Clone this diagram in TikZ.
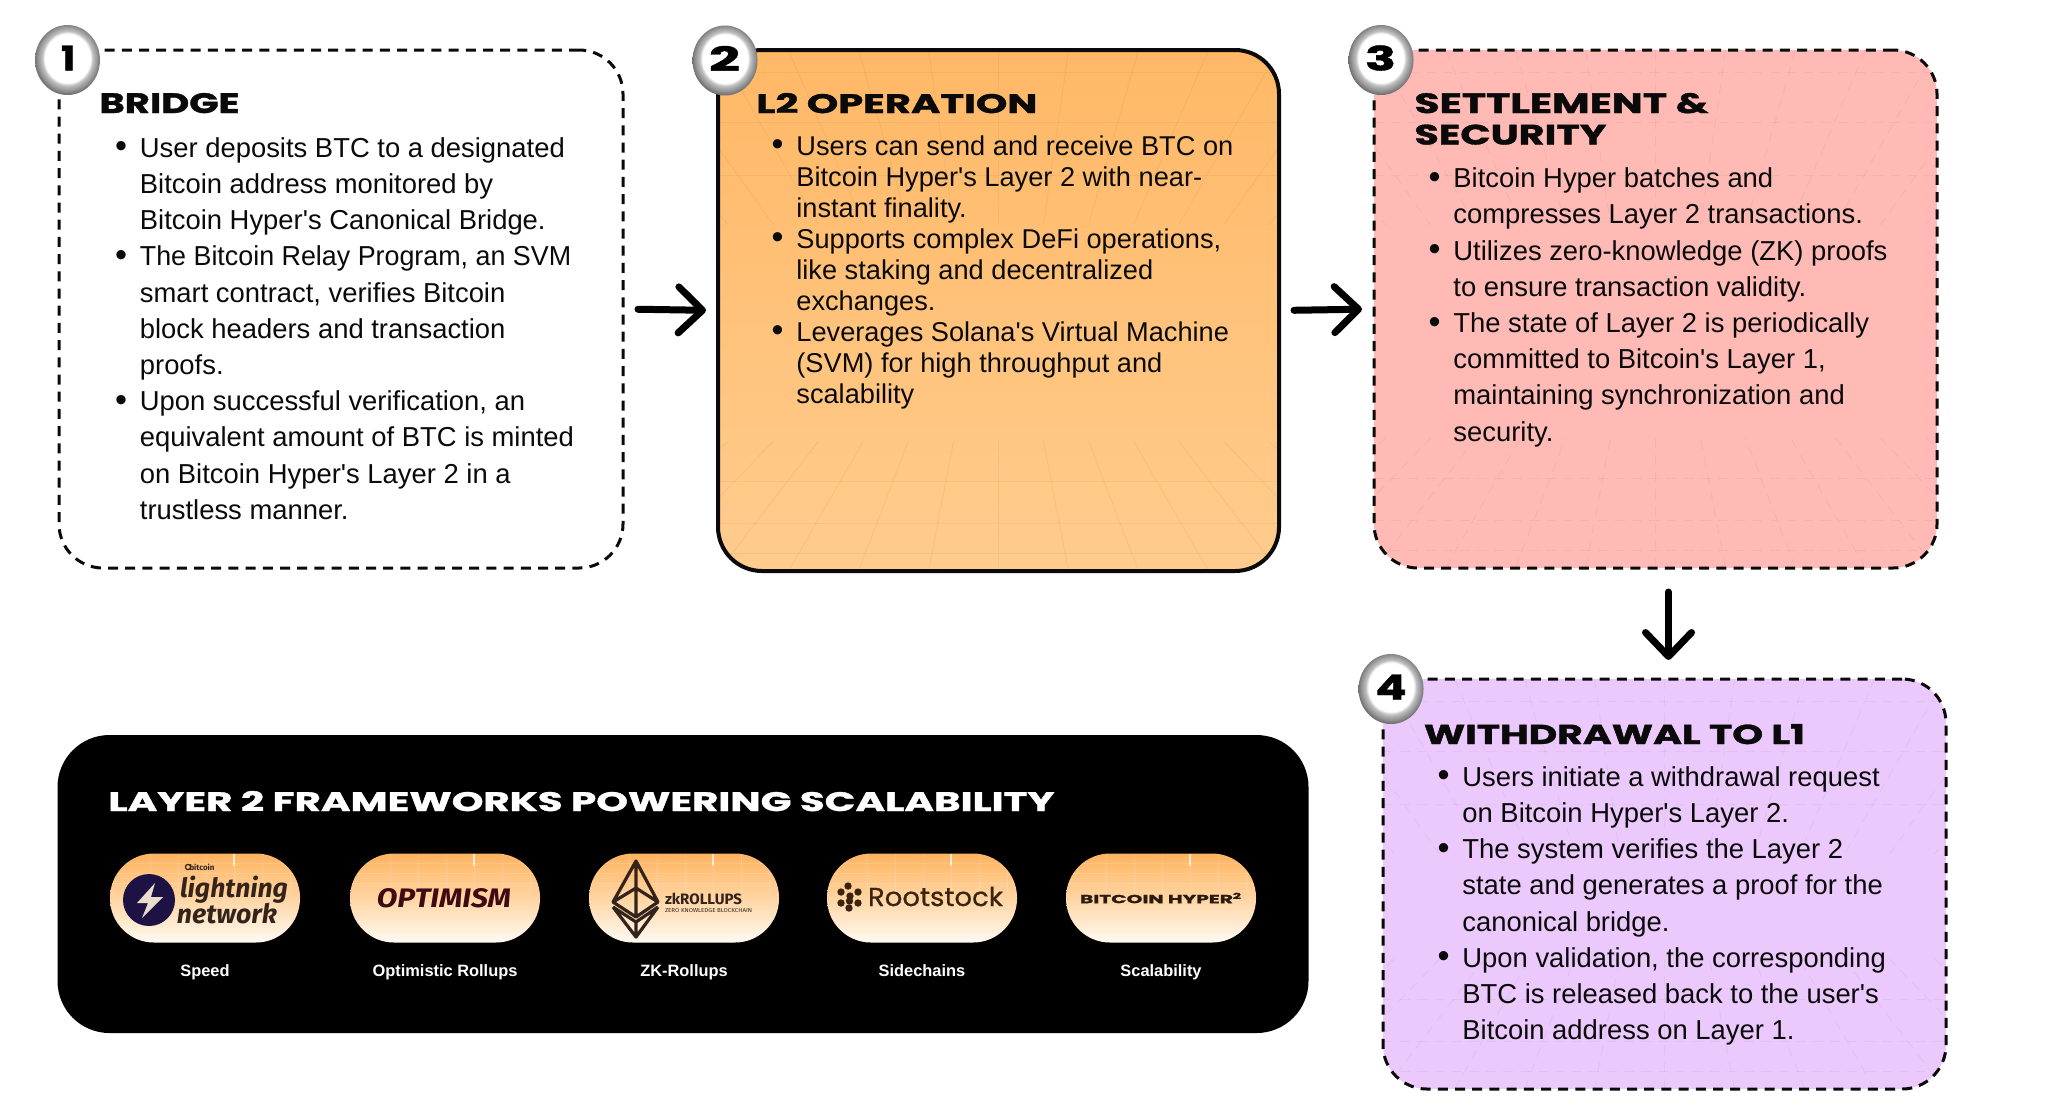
\documentclass[tikz,border=0pt]{standalone}
\usepackage{fontspec}
\usepackage{graphicx}
\setmainfont{Liberation Sans}
\newfontfamily\ttlfont[BoldFeatures={FakeBold=1.2}]{Poppins}
\newfontfamily\logofont{Fira Sans}
\newfontfamily\logomed[FakeBold=0.7]{Poppins}
\usetikzlibrary{arrows.meta,calc,shapes.geometric}
\definecolor{inkc}{HTML}{0A0A0A}
\definecolor{logoc}{HTML}{33231A}
\definecolor{orangetop}{HTML}{FFB866}
\definecolor{orangebot}{HTML}{FFCC8E}
\definecolor{pinkfill}{HTML}{FFBAB5}
\definecolor{lilacfill}{HTML}{ECC9FC}
\definecolor{navyc}{HTML}{1E1245}
\definecolor{boltc}{HTML}{EADCCB}
\definecolor{maroonc}{HTML}{3F0A12}
\definecolor{rootc}{HTML}{3A2410}
\definecolor{hyperc}{HTML}{2A1A10}
\definecolor{pilltop}{HTML}{FFB35F}
\definecolor{pillmid}{HTML}{FFD5A3}
\definecolor{pillbot}{HTML}{FFFAF2}
\pgfdeclareradialshading{bdgshade}{\pgfpoint{0bp}{2bp}}{color(0bp)=(white); color(17.5bp)=(white); color(19.5bp)=(gray!50); color(23bp)=(gray!85); color(27bp)=(gray!70!black); color(50bp)=(gray!70!black)}
\pgfdeclarearrow{
  name=BarbTip,
  setup code={\pgfarrowssettipend{1.75pt}\pgfarrowssetlineend{-1pt}\pgfarrowssetbackend{-12pt}\pgfarrowssetvisualbackend{-1pt}},
  drawing code={\pgfsetdash{}{0pt}\pgfsetroundcap\pgfsetroundjoin
    \pgfpathmoveto{\pgfpoint{-12pt}{11.5pt}}\pgfpathlineto{\pgfpointorigin}\pgfpathlineto{\pgfpoint{-12pt}{-11.5pt}}\pgfusepathqstroke}
}
\newcommand\ttl[2]{\resizebox{#1}{10pt}{\ttlfont\bfseries #2}}
\newcommand\numb[2]{\resizebox{#1}{12.5pt}{\ttlfont\bfseries #2}}
\newcommand\bl{\makebox[0pt][r]{\raisebox{-0.3pt}{\scalebox{1.25}{\textbullet}}\hspace{6.4pt}}}
\newcommand\qq{\textquotesingle{}}
\newcommand\tunnel{%
  \foreach \i in {-6,...,6} {
    \draw[gridln] ($(path picture bounding box.north)+(\i*70,0)$) -- ($(path picture bounding box.north)+(\i*45,175)$);
    \draw[gridln] ($(path picture bounding box.south)+(\i*70,0)$) -- ($(path picture bounding box.south)+(\i*45,-130)$);
  }
  \foreach \d in {22,72,125} {
    \draw[gridln] ($(path picture bounding box.north west)+(0,\d)$) -- ($(path picture bounding box.north east)+(0,\d)$);
  }
  \foreach \d in {18,48,90} {
    \draw[gridln] ($(path picture bounding box.south west)+(0,-\d)$) -- ($(path picture bounding box.south east)+(0,-\d)$);
  }
}
\newcommand\glint{%
  \draw[white,line width=.7pt,opacity=.7] ($(path picture bounding box.north)+(29,0)$) -- ($(path picture bounding box.north)+(29,12)$);
  \foreach \i in {-3,...,3} {\draw[white,line width=.3pt,opacity=.18] ($(path picture bounding box.north)+(29+\i*28,0)$) -- ($(path picture bounding box.north)+(29+\i*28,38)$);}
  \foreach \d in {10,20,30} {\draw[white,line width=.3pt,opacity=.15] ($(path picture bounding box.north west)+(0,\d)$) -- ($(path picture bounding box.north east)+(0,\d)$);}
}
\tikzset{
  gridln/.style={line width=.5pt,draw=black,opacity=.04},
  card/.style={rounded corners=22pt,inner sep=0pt,outer sep=0pt,anchor=north west},
  dashline/.style={draw=inkc,line width=1.5pt,dash pattern=on 5pt off 3.6pt},
  solidline/.style={draw=inkc,line width=2pt},
  bodytext/.style={anchor=north west,inner sep=0pt,align=left,text=inkc,font=\fontsize{13.7}{18.1}\selectfont},
  bodytight/.style={anchor=north west,inner sep=0pt,align=left,text=inkc,font=\fontsize{13.6}{15.5}\selectfont},
  titlenode/.style={anchor=base west,inner sep=0pt,text=inkc},
  badge/.style={ellipse,minimum width=32.5pt,minimum height=35pt,inner sep=0pt,shading=bdgshade},
  numnode/.style={inner sep=0pt,text=black},
  arr/.style={draw=black,line width=3.5pt,line cap=round,-{BarbTip}},
  pill/.style={rounded corners=22pt,minimum width=95pt,minimum height=44.5pt,inner sep=0pt,top color=pilltop,bottom color=pillbot,middle color=pillmid,path picture={\glint}},
  pilllabel/.style={anchor=base,inner sep=0pt,text=white,font=\fontsize{8.2}{10}\selectfont\bfseries},
}
\begin{document}
\begin{tikzpicture}[x=0.5pt,y=-0.5pt]
\useasboundingbox (0,0) rectangle (2048,1105);
% cards
\node[card,dashline,minimum width=282pt,minimum height=259pt] (box1) at (59,50) {};
\node[card,solidline,minimum width=280.5pt,minimum height=260.5pt,top color=orangetop,bottom color=orangebot,path picture={\tunnel}] (box2) at (718,50) {};
\node[card,dashline,minimum width=281.5pt,minimum height=259pt,fill=pinkfill,path picture={\tunnel}] (box3) at (1374,50) {};
\node[card,dashline,minimum width=281.5pt,minimum height=205pt,fill=lilacfill,path picture={\tunnel}] (box4) at (1383,679) {};
\node[card,fill=black,rounded corners=26pt,minimum width=625.5pt,minimum height=149pt] (panel) at (57.5,735) {};
% arrows
\draw[arr,shorten <=7.5pt,shorten >=6pt] (box1.east) -- (box2.west);
\draw[arr,shorten <=7.5pt,shorten >=6pt] (box2.east) -- (box3.west);
\draw[arr,shorten <=12pt,shorten >=9.5pt] ([xshift=6.5pt]box3.south) -- ([xshift=2pt]box4.north);
% badges
\node[badge] (b1) at (67.5,60) {};
\node[badge] (b2) at (725,60.5) {};
\node[badge] (b3) at (1381,60) {};
\node[badge] (b4) at (1391,689) {};
\node[numnode] (n1) at (68,58) {\numb{7pt}{1}};
\node[numnode] (n2) at (724.5,58.5) {\numb{15.5pt}{2}};
\node[numnode] (n3) at (1380.5,58) {\numb{15.5pt}{3}};
\node[numnode] (n4) at (1391,687) {\numb{15.5pt}{4}};
% titles
\node[titlenode] (t1) at (99,113) {\ttl{70pt}{BRIDGE}};
\node[titlenode] (t2) at (756,113) {\ttl{140.5pt}{L2 OPERATION}};
\node[titlenode] (t3a) at (1414,113) {\ttl{147pt}{SETTLEMENT \&}};
\node[titlenode] (t3b) at (1414,144.5) {\ttl{96pt}{SECURITY}};
\node[titlenode] (t4) at (1423.5,744) {\ttl{190.5pt}{WITHDRAWAL TO L1}};
% bodies
\node[bodytext] (txt1) at (139.5,137) {\bl User deposits BTC to a designated\\Bitcoin address monitored by\\Bitcoin Hyper\qq s Canonical Bridge.\\\bl\scalebox{.98}[1]{The Bitcoin Relay Program, an SVM}\\smart contract, verifies Bitcoin\\block headers and transaction\\proofs.\\\bl Upon successful verification, an\\equivalent amount of BTC is minted\\on Bitcoin Hyper\qq s Layer 2 in a\\trustless manner.};
\node[bodytight] (txt2) at (796,135) {\bl Users can send and receive BTC on\\Bitcoin Hyper\qq s Layer 2 with near-\\instant finality.\\\bl Supports complex DeFi operations,\\like staking and decentralized\\exchanges.\\\bl Leverages Solana\qq s Virtual Machine\\(SVM) for high throughput and\\scalability};
\node[bodytext] (txt3) at (1453,167.5) {\bl Bitcoin Hyper batches and\\compresses Layer 2 transactions.\\\bl Utilizes zero-knowledge (ZK) proofs\\to ensure transaction validity.\\\bl The state of Layer 2 is periodically\\committed to Bitcoin\qq s Layer 1,\\maintaining synchronization and\\security.};
\node[bodytext] (txt4) at (1462,766) {\bl Users initiate a withdrawal request\\on Bitcoin Hyper\qq s Layer 2.\\\bl The system verifies the Layer 2\\state and generates a proof for the\\canonical bridge.\\\bl Upon validation, the corresponding\\BTC is released back to the user\qq s\\Bitcoin address on Layer 1.};
% panel
\node[titlenode,text=white] (t5) at (108,811) {\ttl{473pt}{LAYER 2 FRAMEWORKS POWERING SCALABILITY}};
\node[pill] (p1) at (205,898) {};
\node[pill] (p2) at (445,898) {};
\node[pill] (p3) at (684,898) {};
\node[pill] (p4) at (922,898) {};
\node[pill] (p5) at (1161,898) {};
\node[pilllabel] (l1) at (205,976.5) {Speed};
\node[pilllabel] (l2) at (445,976.5) {Optimistic Rollups};
\node[pilllabel] (l3) at (684,976.5) {ZK-Rollups};
\node[pilllabel] (l4) at (922,976.5) {Sidechains};
\node[pilllabel] (l5) at (1161,976.5) {Scalability};
% lightning logo
\fill[fill=navyc] (149,900) circle[radius=26];
\fill[fill=boltc] (155,883) -- (137,903) -- (148,903) -- (142,918) -- (163,897) -- (151,897) -- cycle;
\draw[draw=logoc,line width=.6pt] (188,867) circle[radius=2.6];
\node[inner sep=0pt,text=logoc] (lg1) at (202,867) {\resizebox{12.5pt}{!}{\logofont\bfseries bitcoin}};
\node[inner sep=0pt,text=logoc] (lg2) at (234,890) {\resizebox{54pt}{!}{\logofont\bfseries\itshape lightning}};
\node[inner sep=0pt,text=logoc] (lg3) at (227,914) {\resizebox{50pt}{!}{\logofont\bfseries\itshape network}};
% optimism logo
\node[inner sep=0pt,text=maroonc] (lg4) at (444,898) {\resizebox{67pt}{9.5pt}{\logofont\bfseries\itshape OPTIMISM}};
% zk logo
\draw[draw=logoc,line width=1.6pt,line join=round] (636,861) -- (613,902) -- (636,917) -- (658,902) -- cycle (636,861) -- (636,917) (613,902) -- (636,888) -- (658,902) (613,907) -- (636,937) -- (658,907) (613,907) -- (636,922) -- (658,907) (636,922) -- (636,937);
\node[inner sep=0pt,text=logoc] (lg5) at (703.5,899) {\resizebox{38.5pt}{!}{\logofont\bfseries zkROLLUPS}};
\node[inner sep=0pt,text=logoc] (lg6) at (708.5,911) {\resizebox{43.5pt}{2pt}{\logofont ZERO KNOWLEDGE BLOCKCHAIN}};
% rootstock logo
\foreach \a/\b in {848/886,841/892,858/892,850/896,841/903,858/903,849/908,849.5/901}{\fill[fill=rootc] (\a,\b) circle[radius=3.7];}
\node[anchor=base,inner sep=0pt,text=rootc] (lg7) at (935.5,906) {\resizebox{67.5pt}{9.6pt}{\logomed Rootstock}};
% bitcoin hyper logo
\node[inner sep=0pt,text=hyperc] (lg8) at (1161,898) {\resizebox{81pt}{5.2pt}{\ttlfont\bfseries BITCOIN HYPER\textsuperscript{2}}};
\end{tikzpicture}
\end{document}
